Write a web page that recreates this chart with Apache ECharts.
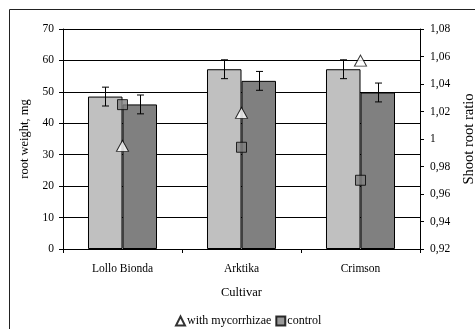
<!DOCTYPE html>
<html><head><meta charset="utf-8">
<script src="https://cdn.jsdelivr.net/npm/echarts@6/dist/echarts.min.js"></script>
<style>html,body{margin:0;padding:0;background:#fff}#c{width:475px;height:329px}</style>
</head><body><div id="c"></div>
<script>
const categories = ['Lollo Bionda', 'Arktika', 'Crimson'];
const weightMyc = [48.5, 57.2, 57.2];
const weightCtrl = [46.0, 53.5, 49.8];
const errMyc = [3.0, 3.0, 3.0];
const errCtrl = [3.0, 3.0, 3.0];
const ratioMyc = [0.995, 1.019, 1.057];
const ratioCtrl = [1.025, 0.994, 0.970];

const FONT = 'Liberation Serif';
const GAP = 0.42;
const chart = echarts.init(document.getElementById('c'), null, {renderer: 'canvas'});

function fmt(v) { return String(Number(v.toFixed(2))).replace('.', ','); }

const errData = [];
categories.forEach((c, i) => {
  errData.push([i, weightMyc[i], errMyc[i], -1]);
  errData.push([i, weightCtrl[i], errCtrl[i], 1]);
});

chart.setOption({
  animation: false,
  textStyle: {fontFamily: FONT, color: '#000'},
  graphic: [{type: 'rect', shape: {x: 9.5, y: 9.5, width: 480, height: 340}, style: {fill: 'none', stroke: '#222', lineWidth: 1}, silent: true}],
  grid: {left: 63, right: 55, top: 29, bottom: 80, containLabel: false, outerBoundsMode: 'none'},
  legend: {
    bottom: -3, left: 170, itemGap: 4, itemWidth: 9, itemHeight: 9,
    data: ['with mycorrhizae', 'control'],
    textStyle: {fontFamily: FONT, fontSize: 12, color: '#000', padding: [0, 0, 0, -3]}
  },
  xAxis: {
    type: 'category', data: categories,
    name: 'Cultivar', nameLocation: 'middle', nameGap: 37,
    nameTextStyle: {fontFamily: FONT, fontSize: 12.5, color: '#000'},
    axisLine: {lineStyle: {color: '#000', width: 1}},
    axisTick: {show: true, length: 4, lineStyle: {color: '#000'}},
    axisLabel: {fontFamily: FONT, fontSize: 11.5, color: '#000', margin: 14}
  },
  yAxis: [{
    type: 'value', min: 0, max: 70, interval: 10,
    name: 'root weight, mg', nameLocation: 'middle', nameGap: 29, nameRotate: 90,
    nameTextStyle: {fontFamily: FONT, fontSize: 12.5, color: '#000'},
    axisLine: {show: true, lineStyle: {color: '#000'}},
    axisTick: {show: true, length: 4, lineStyle: {color: '#000'}},
    axisLabel: {fontFamily: FONT, fontSize: 11.5, color: '#000', margin: 9},
    splitLine: {show: true, lineStyle: {color: '#000', width: 1}}
  }, {
    type: 'value', min: 0.92, max: 1.08, interval: 0.02, position: 'right',
    name: 'Shoot root ratio', nameLocation: 'middle', nameGap: 42, nameRotate: 90,
    nameTextStyle: {fontFamily: FONT, fontSize: 14.5, color: '#000'},
    axisLine: {show: true, lineStyle: {color: '#000'}},
    axisTick: {show: true, length: 4, lineStyle: {color: '#000'}},
    axisLabel: {fontFamily: FONT, fontSize: 11.5, color: '#000', margin: 10, formatter: fmt},
    splitLine: {show: false}
  }],
  series: [
    {type: 'bar', name: 'bar myc', data: weightMyc, barGap: '0%', barCategoryGap: (GAP * 100) + '%',
     itemStyle: {color: '#c0c0c0', borderColor: '#000', borderWidth: 1}, z: 2},
    {type: 'bar', name: 'bar ctrl', data: weightCtrl,
     itemStyle: {color: '#808080', borderColor: '#000', borderWidth: 1}, z: 2},
    {type: 'custom', name: 'err', data: errData, z: 3,
     renderItem: function (params, api) {
       const i = api.value(0), v = api.value(1), e = api.value(2), side = api.value(3);
       const band = api.size([1, 0])[0];
       const bw = band * (1 - GAP) / 2;
       const hi = api.coord([i, v + e]), lo = api.coord([i, v - e]);
       const x = Math.round(hi[0] + side * bw / 2) + 0.5;
       const cw = 3.5;
       const st = {stroke: '#000', lineWidth: 1};
       return {type: 'group', children: [
         {type: 'line', shape: {x1: x, y1: hi[1], x2: x, y2: lo[1]}, style: st},
         {type: 'line', shape: {x1: x - cw, y1: hi[1], x2: x + cw, y2: hi[1]}, style: st},
         {type: 'line', shape: {x1: x - cw, y1: lo[1], x2: x + cw, y2: lo[1]}, style: st}
       ]};
     }},
    {type: 'scatter', name: 'with mycorrhizae', yAxisIndex: 1, data: ratioMyc,
     symbol: 'triangle', symbolSize: [12, 11],
     itemStyle: {color: '#fff', borderColor: '#000', borderWidth: 1}, z: 5},
    {type: 'scatter', name: 'control', yAxisIndex: 1, data: ratioCtrl,
     symbol: 'rect', symbolSize: 10,
     itemStyle: {color: '#808080', borderColor: '#000', borderWidth: 1}, z: 5}
  ]
});
</script></body></html>
